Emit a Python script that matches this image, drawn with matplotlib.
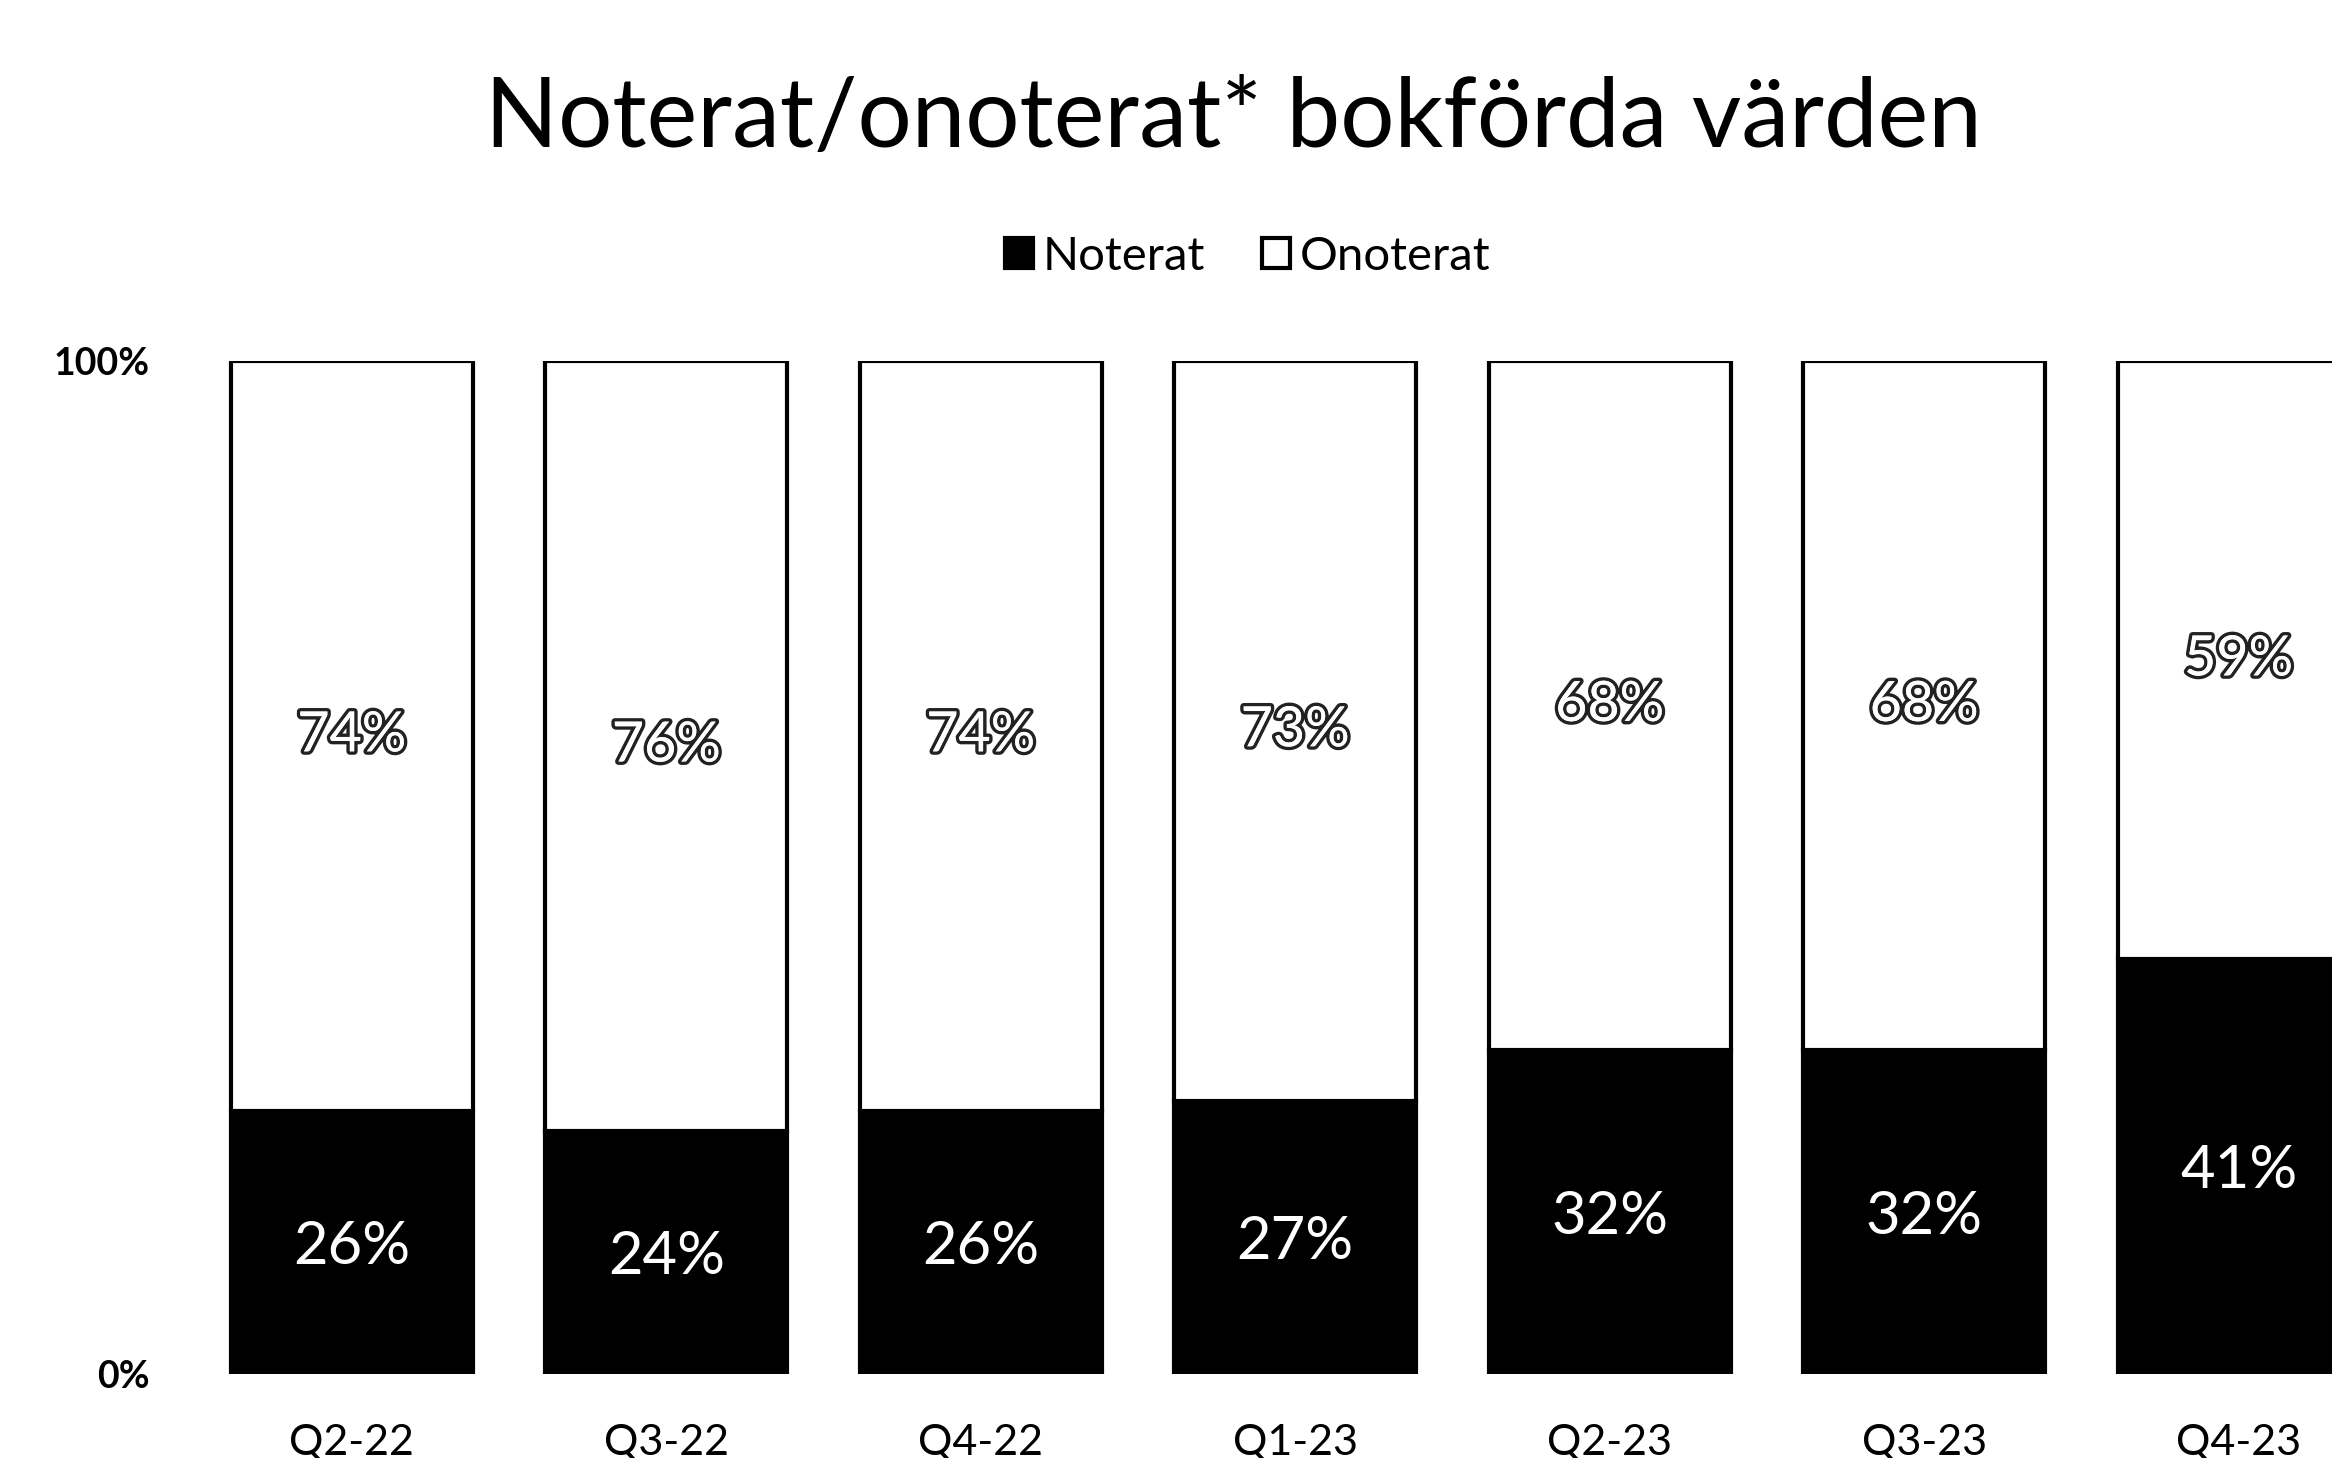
import matplotlib
matplotlib.use('Agg')
from matplotlib import pyplot as plt
import matplotlib.patheffects as pe

# quarters and shares (percent)
quarters = ['Q2-22', 'Q3-22', 'Q4-22', 'Q1-23', 'Q2-23', 'Q3-23', 'Q4-23']
noterat = [26, 24, 26, 27, 32, 32, 41]
onoterat = [74, 76, 74, 73, 68, 68, 59]
ytick_vals = [0, 100]
ytick_labels = ['0%', '100%']


def main():
    plt.rcParams['font.family'] = ['Lato', 'DejaVu Sans']

    fig = plt.figure(figsize=(23.32, 14.58), dpi=100)
    ax = fig.add_axes([0.07, 0.0576, 0.93, 0.6948])

    x = list(range(len(quarters)))
    width = 0.77

    ax.bar(x, noterat, width, color='black', edgecolor='black', linewidth=3, label='Noterat')
    ax.bar(x, onoterat, width, bottom=noterat, color='white', edgecolor='black',
           linewidth=3, label='Onoterat')

    #labels in the middle of each segment
    for i in range(len(quarters)):
        ax.text(x[i], noterat[i] / 2, str(noterat[i]) + '%', ha='center',
                va='center_baseline', color='white', fontsize=43)
        t = ax.text(x[i], noterat[i] + onoterat[i] / 2, str(onoterat[i]) + '%', ha='center',
                    va='center', color='white', fontsize=40)
        t.set_path_effects([pe.withStroke(linewidth=5, foreground='#222222'), pe.Normal()])

    ax.set_xlim(-0.6, 6.297)
    ax.set_ylim(0, 100)
    ax.set_xticks(x)
    ax.set_xticklabels(quarters, fontsize=31)
    ax.set_yticks(ytick_vals)
    ax.set_yticklabels(ytick_labels, fontsize=27, fontweight='bold')
    ax.tick_params(axis='both', length=0)
    ax.tick_params(axis='x', pad=36)
    ax.tick_params(axis='y', pad=10)
    for s in ax.spines.values():
        s.set_visible(False)

    fig.text(0.529, 0.918, 'Noterat/onoterat* bokförda värden', ha='center', va='center',
             fontsize=69)

    fig.legend(loc='center', bbox_to_anchor=(0.535, 0.824), ncol=2, frameon=False,
               fontsize=34, handlelength=0.6, handleheight=0.6, handletextpad=0.2,
               columnspacing=1.2)

    fig.savefig('out.png', dpi=100)


if __name__ == '__main__':
    main()
